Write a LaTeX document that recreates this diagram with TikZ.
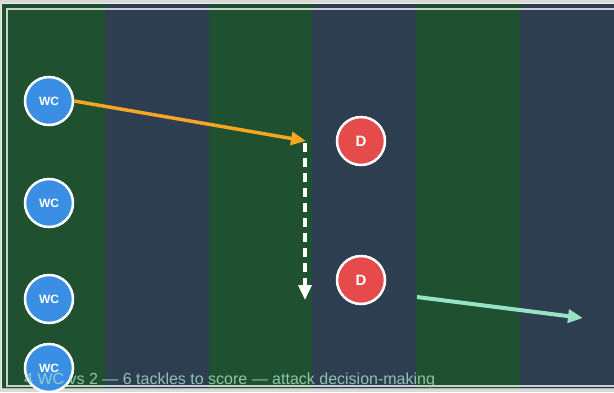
\documentclass[tikz,border=0pt]{standalone}
\usepackage{fontspec}
\setmainfont{Liberation Sans}
\usetikzlibrary{arrows.meta}
\definecolor{bggray}{HTML}{D9D9D6}
\definecolor{fieldgreen}{HTML}{1F5130}
\definecolor{fieldblue}{HTML}{2C3E50}
\definecolor{wcblue}{HTML}{3A8EE3}
\definecolor{dred}{HTML}{E54B4B}
\definecolor{runorange}{HTML}{F5A623}
\definecolor{mint}{HTML}{98E2C6}
\definecolor{captioncol}{HTML}{A3D9C4}
\tikzset{
  x=1pt, y=-1pt,
  player/.style={circle, draw=white, line width=2.5pt, minimum size=48pt, inner sep=0pt, text=white, font=\bfseries},
  wc/.style={player, fill=wcblue, font=\bfseries\fontsize{12}{14}\selectfont},
  def/.style={player, fill=dred, font=\bfseries\fontsize{15}{17}\selectfont},
  arrowtip/.style={-{Triangle[length=15pt 0 0,width=13pt 0 0]}},
}
\begin{document}
\begin{tikzpicture}
\useasboundingbox (0,0) rectangle (614,392);
\fill[bggray] (0,0) rectangle (614,392);
\begin{scope}
\clip (2,4) rectangle (614,389);
\foreach \i in {0,2,4} {
  \fill[fieldgreen] (1+\i*103.8,4) rectangle (1+\i*103.8+103.8,389);
}
\foreach \i in {1,3,5} {
  \fill[fieldblue] (1+\i*103.8,4) rectangle (1+\i*103.8+103.8,389);
}
\draw[white, opacity=0.75, line width=1.5pt] (7,9) rectangle (622,386);
\end{scope}
\draw[white, opacity=0.6, line width=1pt] (2,3.5) -- (614,3.5);
\draw[white, opacity=0.6, line width=1pt] (1.5,3.5) -- (1.5,389);
\draw[white, opacity=0.6, line width=1pt] (1.5,388.5) -- (614,388.5);

\node[wc] (wc1) at (49,101) {WC};
\node[wc] (wc2) at (49,203) {WC};
\node[wc] (wc3) at (49,299) {WC};
\node[wc] (wc4) at (49,368) {WC};
\node[def] (d1) at (361,141) {D};
\node[def] (d2) at (361,280) {D};

\coordinate (turn) at (306,141);
\coordinate (drop) at (305,143);
\coordinate (dropend) at (305,300);
\coordinate (pass0) at (417,297);
\coordinate (pass1) at (583,318);

\draw[runorange, line width=3.5pt, arrowtip] (wc1.east) -- (turn);
\draw[white, line width=3.5pt, dash pattern=on 9pt off 6pt, arrowtip] (drop) -- (dropend);
\draw[mint, line width=4pt, arrowtip] (pass0) -- (pass1);

\node[anchor=base west, text=captioncol, opacity=0.85, font=\fontsize{16}{18}\selectfont, inner sep=0pt] (caption) at (24,384) {4 WC vs 2 — 6 tackles to score — attack decision-making};
\end{tikzpicture}
\end{document}
